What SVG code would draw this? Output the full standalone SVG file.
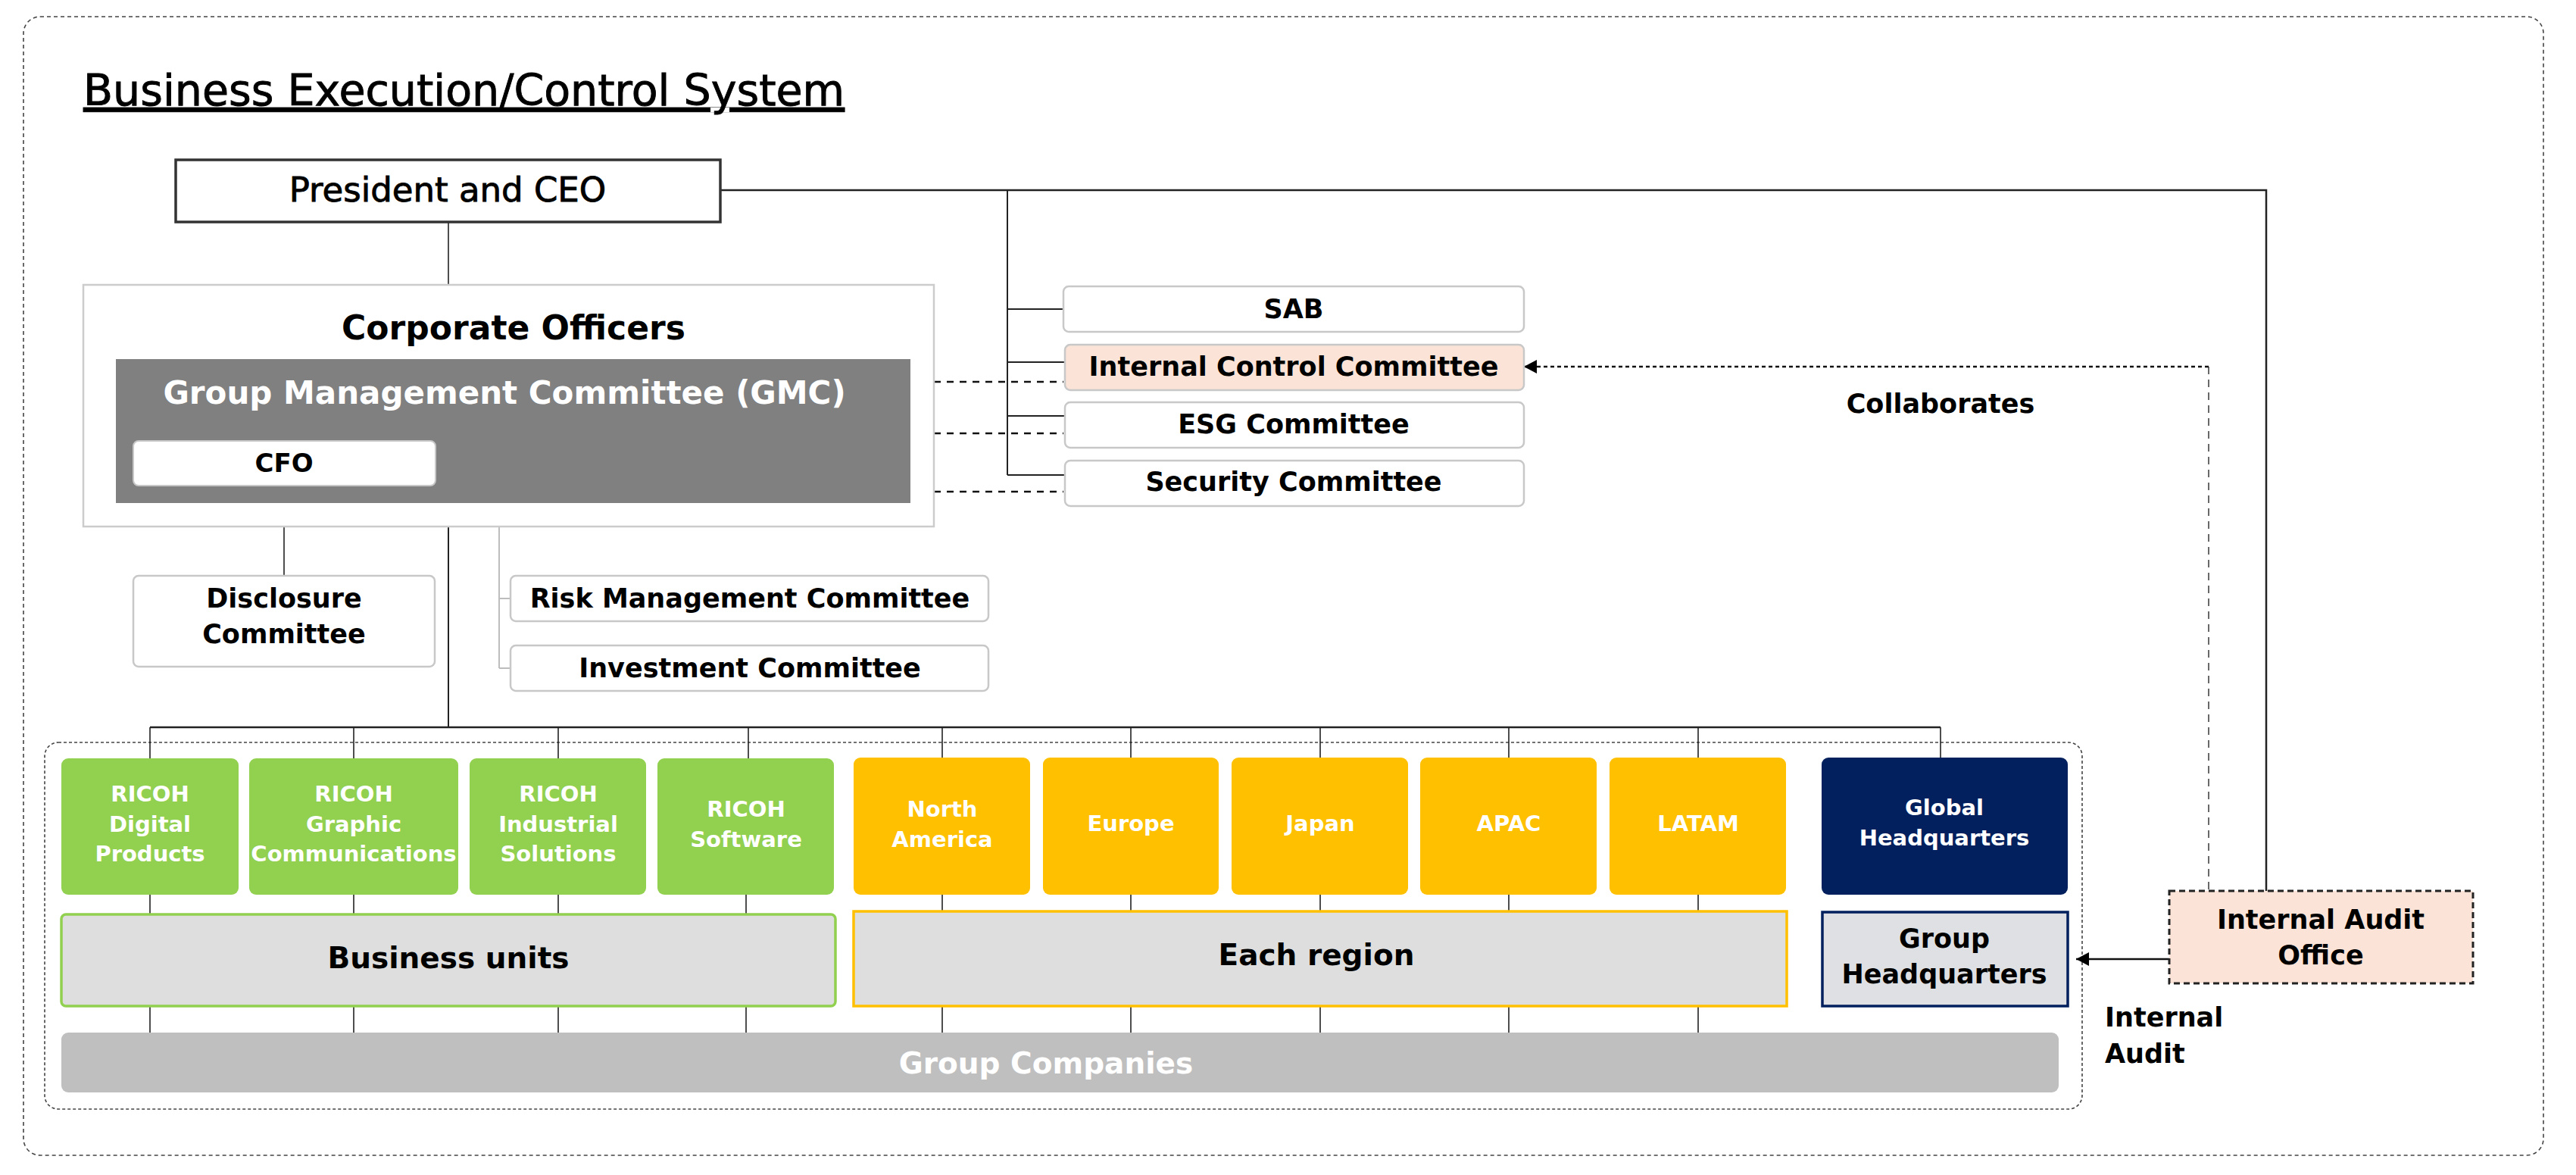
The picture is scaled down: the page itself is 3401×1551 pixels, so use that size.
<svg xmlns="http://www.w3.org/2000/svg" width="3401" height="1551" viewBox="0 0 3401 1551">
<defs>
<style>
text{font-family:"DejaVu Sans","Liberation Sans",sans-serif;text-anchor:middle;fill:#000}
.b{font-weight:bold}
.w{fill:#fff}
.med{stroke:#000;stroke-width:0.9}
.cbox{fill:#fff;stroke:#c8c8c8;stroke-width:2.5}
.ln{fill:none;stroke:#222;stroke-width:2}
.thin{fill:none;stroke:#222;stroke-width:1.6}
.gray{fill:none;stroke:#bdbdbd;stroke-width:2}
.dash{fill:none;stroke:#111;stroke-width:2.5;stroke-dasharray:9 8}
.green{fill:#92d050}
.yellow{fill:#ffc000}
.navy{fill:#03205e}
.f29{font-size:29px}
.f35{font-size:35px}
.f39{font-size:39px}
.f42{font-size:42px}
</style>
<marker id="ah" viewBox="0 0 17 18" refX="17" refY="9" markerWidth="17" markerHeight="18" markerUnits="userSpaceOnUse" orient="auto">
<path d="M0,0 L17,9 L0,18 z" fill="#000"/>
</marker>
</defs>
<rect width="3401" height="1551" fill="#fff"/>

<!-- outer frame -->
<rect id="frame" x="31" y="22" width="3327" height="1503" rx="22" fill="none" stroke="#444" stroke-width="1.6" stroke-dasharray="5 4"/>
<text id="title" class="med" x="110" y="139" style="text-anchor:start;font-size:57px;text-decoration:underline">Business Execution/Control System</text>

<!-- inner container -->
<rect id="container" x="59" y="980" width="2690" height="484" rx="18" fill="none" stroke="#444" stroke-width="1.6" stroke-dasharray="4 3"/>

<g id="connectors">
<path class="ln" d="M951,251 H2992 V1176" style="stroke-width:2.5"/>
<path class="ln" d="M1330,251 V627 M1330,408 H1404 M1330,478 H1406 M1330,549 H1406 M1330,627 H1406"/>
<path class="thin" d="M592,293 V376"/>
<path class="thin" d="M375,641 V760"/>
<path class="ln" d="M592,695 V960"/>
<path class="gray" d="M659,695 V882 M659,790 H674 M659,882 H674"/>
<path class="ln" d="M198,960 H2562" style="stroke-width:2.5"/>
<path class="thin" d="M198,960 V1001 M467,960 V1001 M737,960 V1001 M988,960 V1001 M1244,960 V1000 M1493,960 V1000 M1743,960 V1000 M1992,960 V1000 M2242,960 V1000 M2562,960 V1000"/>
<path class="thin" d="M198,1181 V1207 M467,1181 V1207 M737,1181 V1207 M985,1181 V1207 M1244,1181 V1202 M1493,1181 V1202 M1743,1181 V1202 M1992,1181 V1202 M2242,1181 V1202"/>
<path class="thin" d="M198,1328 V1363 M467,1328 V1363 M737,1328 V1363 M985,1328 V1363 M1244,1328 V1363 M1493,1328 V1363 M1743,1328 V1363 M1992,1328 V1363 M2242,1328 V1363"/>
<path class="dash" d="M1233,504 H1404 M1233,572 H1404 M1233,649 H1404"/>
<path fill="none" stroke="#444" stroke-width="1.6" stroke-dasharray="10 7" d="M2916,484 V1176"/>
<path fill="none" stroke="#111" stroke-width="2.5" stroke-dasharray="5 4" d="M2916,484 H2012" marker-end="url(#ah)"/>
<path fill="none" stroke="#111" stroke-width="2.5" d="M2864,1266 H2741" marker-end="url(#ah)"/>
</g>

<g id="president">
<rect x="232" y="211" width="719" height="82" fill="#fff" stroke="#333" stroke-width="3.5"/>
<text class="med" x="591" y="266" style="font-size:45px">President and CEO</text>
</g>

<g id="corporate-officers">
<rect x="110" y="376" width="1123" height="319" fill="#fff" stroke="#cccccc" stroke-width="2.5"/>
<text class="b" x="678" y="448" style="font-size:44px">Corporate Officers</text>
</g>

<g id="gmc">
<rect x="153" y="474" width="1049" height="190" fill="#808080"/>
<text class="b f42 w" x="666" y="533">Group Management Committee (GMC)</text>
</g>

<g id="cfo">
<rect x="176" y="582" width="399" height="59" rx="7" fill="#fff" stroke="#c8c8c8" stroke-width="2"/>
<text class="b" x="375" y="623" style="font-size:34px">CFO</text>
</g>

<g id="sab">
<rect class="cbox" x="1404" y="378" width="608" height="60" rx="7"/>
<text class="b f35" x="1708" y="420">SAB</text>
</g>
<g id="internal-control">
<rect x="1406" y="455" width="606" height="60" rx="7" fill="#fbe4d7" stroke="#c8c8c8" stroke-width="2.5"/>
<text class="b f35" x="1708" y="496">Internal Control Committee</text>
</g>
<g id="esg">
<rect class="cbox" x="1406" y="531" width="606" height="60" rx="7"/>
<text class="b f35" x="1708" y="572">ESG Committee</text>
</g>
<g id="security">
<rect class="cbox" x="1406" y="608" width="606" height="60" rx="7"/>
<text class="b f35" x="1708" y="648">Security Committee</text>
</g>

<g id="collaborates">
<text class="b f35" x="2562" y="545">Collaborates</text>
</g>

<g id="disclosure">
<rect class="cbox" x="176" y="760" width="398" height="120" rx="7"/>
<text class="b f35" x="375" y="802">Disclosure</text>
<text class="b f35" x="375" y="849">Committee</text>
</g>
<g id="risk">
<rect class="cbox" x="674" y="760" width="631" height="60" rx="7"/>
<text class="b f35" x="990" y="802">Risk Management Committee</text>
</g>
<g id="investment">
<rect class="cbox" x="674" y="852" width="631" height="60" rx="7"/>
<text class="b f35" x="990" y="894">Investment Committee</text>
</g>

<g id="bu-digital">
<rect class="green" x="81" y="1001" width="234" height="180" rx="9"/>
<text class="b f29 w" x="198" y="1058">RICOH</text>
<text class="b f29 w" x="198" y="1098">Digital</text>
<text class="b f29 w" x="198" y="1137">Products</text>
</g>
<g id="bu-graphic">
<rect class="green" x="329" y="1001" width="276" height="180" rx="9"/>
<text class="b f29 w" x="467" y="1058">RICOH</text>
<text class="b f29 w" x="467" y="1098">Graphic</text>
<text class="b f29 w" x="467" y="1137">Communications</text>
</g>
<g id="bu-industrial">
<rect class="green" x="620" y="1001" width="233" height="180" rx="9"/>
<text class="b f29 w" x="737" y="1058">RICOH</text>
<text class="b f29 w" x="737" y="1098">Industrial</text>
<text class="b f29 w" x="737" y="1137">Solutions</text>
</g>
<g id="bu-software">
<rect class="green" x="868" y="1001" width="233" height="180" rx="9"/>
<text class="b f29 w" x="985" y="1078">RICOH</text>
<text class="b f29 w" x="985" y="1118">Software</text>
</g>

<g id="rg-na">
<rect class="yellow" x="1127" y="1000" width="233" height="181" rx="9"/>
<text class="b f29 w" x="1244" y="1078">North</text>
<text class="b f29 w" x="1244" y="1118">America</text>
</g>
<g id="rg-europe">
<rect class="yellow" x="1377" y="1000" width="232" height="181" rx="9"/>
<text class="b f29 w" x="1493" y="1097">Europe</text>
</g>
<g id="rg-japan">
<rect class="yellow" x="1626" y="1000" width="233" height="181" rx="9"/>
<text class="b f29 w" x="1743" y="1097">Japan</text>
</g>
<g id="rg-apac">
<rect class="yellow" x="1875" y="1000" width="233" height="181" rx="9"/>
<text class="b f29 w" x="1992" y="1097">APAC</text>
</g>
<g id="rg-latam">
<rect class="yellow" x="2125" y="1000" width="233" height="181" rx="9"/>
<text class="b f29 w" x="2242" y="1097">LATAM</text>
</g>
<g id="global-hq">
<rect class="navy" x="2405" y="1000" width="325" height="181" rx="9"/>
<text class="b f29 w" x="2567" y="1076">Global</text>
<text class="b f29 w" x="2567" y="1116">Headquarters</text>
</g>

<g id="business-units">
<rect x="81" y="1207" width="1022" height="121" rx="6" fill="#dedede" stroke="#92d050" stroke-width="3.5"/>
<text class="b f39" x="592" y="1278">Business units</text>
</g>
<g id="each-region">
<rect x="1127" y="1203" width="1232" height="125" fill="#dedede" stroke="#ffc000" stroke-width="3.5"/>
<text class="b f39" x="1738" y="1274">Each region</text>
</g>
<g id="group-hq">
<rect x="2406" y="1204" width="324" height="124" fill="#dee0e3" stroke="#03205e" stroke-width="3.5"/>
<text class="b f35" x="2567" y="1251">Group</text>
<text class="b f35" x="2567" y="1298">Headquarters</text>
</g>

<g id="group-companies">
<rect x="81" y="1363" width="2637" height="79" rx="9" fill="#bfbfbf"/>
<text class="b f39 w" x="1381" y="1417">Group Companies</text>
</g>

<g id="internal-audit-office">
<rect x="2864" y="1176" width="401" height="122" fill="#fbe4d7" stroke="#222" stroke-width="3" stroke-dasharray="8 5"/>
<text class="b f35" x="3064" y="1226">Internal Audit</text>
<text class="b f35" x="3064" y="1273">Office</text>
</g>

<g id="internal-audit-label">
<text class="b f35" x="2779" y="1355" style="text-anchor:start">Internal</text>
<text class="b f35" x="2779" y="1403" style="text-anchor:start">Audit</text>
</g>
</svg>
